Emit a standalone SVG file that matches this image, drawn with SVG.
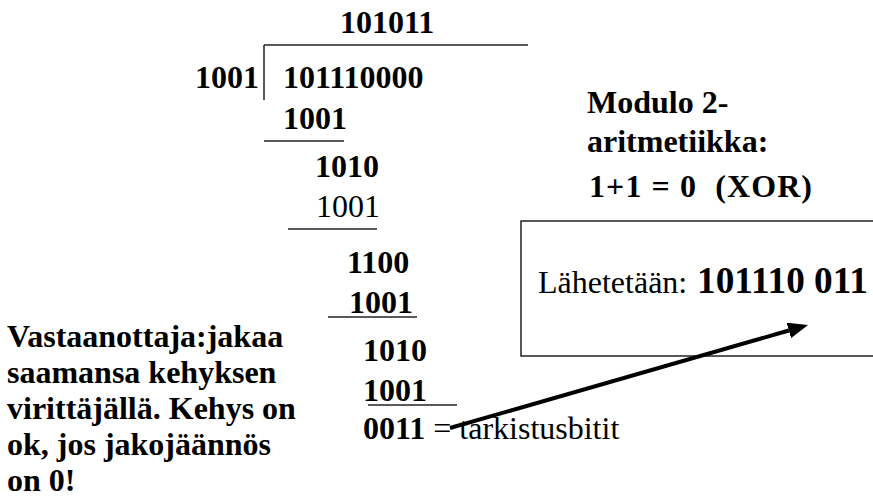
<svg xmlns="http://www.w3.org/2000/svg" width="873" height="500" viewBox="0 0 873 500">
<style>
.txt{font-family:"Liberation Serif","Times New Roman",serif;font-size:32px;fill:#000}
.bold{font-family:"Liberation Serif","Times New Roman",serif;font-weight:bold}
.reg{font-family:"Liberation Serif","Times New Roman",serif;font-weight:normal}
.rule{stroke:#222;stroke-width:1.5;fill:none}
.arrow{stroke:#000;stroke-width:4;fill:none}
</style>
<defs>
<marker id="head" viewBox="0 0 10 8" refX="0" refY="4" markerWidth="5" markerHeight="4" orient="auto" markerUnits="strokeWidth">
<path d="M0,0 L10,4 L0,8 z" fill="#000"/>
</marker>
</defs>
<rect width="873" height="500" fill="#fff"/>
<g id="division">
<text class="txt bold" x="340" y="33">101011</text>
<text class="txt bold" x="195" y="88">1001</text>
<text class="txt bold" x="283" y="88">101110000</text>
<text class="txt bold" x="283" y="129">1001</text>
<text class="txt bold" x="315" y="177">1010</text>
<text class="txt reg" x="316" y="217">1001</text>
<text class="txt bold" x="347" y="273">1100</text>
<text class="txt bold" x="349" y="313">1001</text>
<text class="txt bold" x="363" y="361">1010</text>
<text class="txt bold" x="363" y="401">1001</text>
<text class="txt" x="363" y="439" style="white-space:pre"><tspan class="bold">0011</tspan><tspan class="reg"> = tarkistusbitit</tspan></text>
<line class="rule" x1="264" y1="45" x2="528" y2="45"/>
<line class="rule" x1="264" y1="45" x2="264" y2="100"/>
<line class="rule" x1="264" y1="141" x2="344" y2="141"/>
<line class="rule" x1="288" y1="229" x2="377" y2="229"/>
<line class="rule" x1="328" y1="317" x2="417" y2="317"/>
<line class="rule" x1="368" y1="405" x2="457" y2="405"/>
</g>
<g id="modulo">
<text class="txt bold" x="587" y="113">Modulo 2-</text>
<text class="txt bold" x="587" y="152">aritmetiikka:</text>
<text class="txt bold" x="589" y="197" textLength="223" lengthAdjust="spacing" style="white-space:pre">1+1 = 0  (XOR)</text>
</g>
<g id="sent">
<rect class="rule" x="521" y="221" width="380" height="135"/>
<text class="txt reg" x="538" y="293">Lähetetään:</text>
<text class="txt bold" x="697" y="293" style="font-size:37px" textLength="171" lengthAdjust="spacingAndGlyphs">101110 011</text>
</g>
<g id="receiver">
<text class="txt bold" x="7" y="347">Vastaanottaja:jakaa</text>
<text class="txt bold" x="7" y="383">saamansa kehyksen</text>
<text class="txt bold" x="7" y="419">virittäjällä. Kehys on</text>
<text class="txt bold" x="7" y="455">ok, jos jakojäännös</text>
<text class="txt bold" x="7" y="491">on 0!</text>
</g>
<g id="connectors">
<line class="arrow" x1="450" y1="428" x2="788.8" y2="330.5" marker-end="url(#head)"/>
</g>
</svg>
